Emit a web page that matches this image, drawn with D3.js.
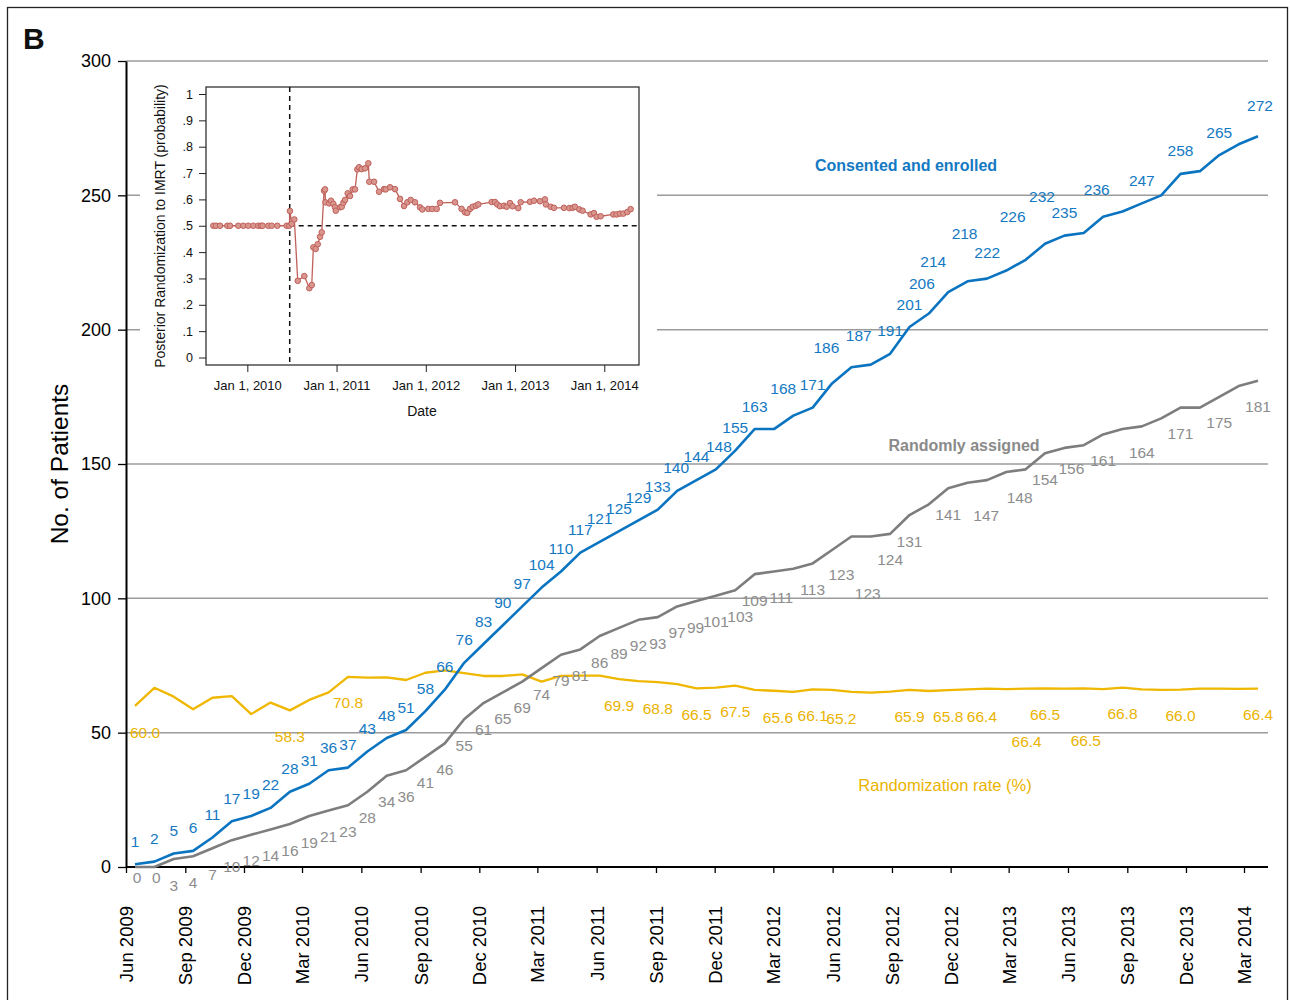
<!DOCTYPE html>
<html>
<head>
<meta charset="utf-8">
<script src="https://cdn.jsdelivr.net/npm/d3@7"></script>
<style>
  body { margin: 0; background: #fff; }
  text { font-family: "Liberation Sans", Arial, Helvetica, sans-serif; }
</style>
</head>
<body>
<svg id="chart" width="1290" height="1000"></svg>
<script>
// ---------------- data ----------------
// Monthly cumulative counts, Jun 2009 – Apr 2014
const consented = [
  1, 2, 5, 6, 11, 17, 19, 22, 28, 31,
  36, 37, 43, 48, 51, 58, 66, 76, 83, 90,
  97, 104, 110, 117, 121, 125, 129, 133, 140, 144,
  148, 155, 163, 163, 168, 171, 180, 186, 187, 191,
  201, 206, 214, 218, 219, 222, 226, 232, 235, 236,
  242, 244, 247, 250, 258, 259, 265, 269, 272
];
const randomized = [
  0, 0, 3, 4, 7, 10, 12, 14, 16, 19,
  21, 23, 28, 34, 36, 41, 46, 55, 61, 65,
  69, 74, 79, 81, 86, 89, 92, 93, 97, 99,
  101, 103, 109, 110, 111, 113, 118, 123, 123, 124,
  131, 135, 141, 143, 144, 147, 148, 154, 156, 157,
  161, 163, 164, 167, 171, 171, 175, 179, 181
];
// Randomization rate (%)
const randRate = [
  60.0, 66.7, 63.4, 58.7, 63.0, 63.6, 56.9, 61.2, 58.3, 62.2,
  65.0, 70.8, 70.5, 70.6, 69.6, 72.3, 73.2, 72.2, 71.1, 71.1,
  71.7, 69.0, 71.1, 71.2, 71.2, 69.9, 69.2, 68.8, 68.1, 66.5,
  66.8, 67.5, 65.9, 65.6, 65.2, 66.1, 65.9, 65.2, 64.9, 65.3,
  65.9, 65.5, 65.8, 66.1, 66.4, 66.2, 66.4, 66.5, 66.4, 66.5,
  66.2, 66.8, 66.1, 65.9, 66.0, 66.4, 66.4, 66.3, 66.4
];
// months that carry no printed value
const consentedUnlabeled = [33, 36, 44, 50, 51, 53, 55, 57];
const randomizedUnlabeled = [33, 36, 41, 43, 44, 49, 51, 53, 55, 57];
// months whose rate is printed
const rateLabeled = [0, 8, 11, 25, 27, 29, 31, 33, 35, 37, 40, 42, 44, 46, 47, 49, 51, 54, 58];

const xTickLabels = [
  "Jun 2009", "Sep 2009", "Dec 2009", "Mar 2010", "Jun 2010", "Sep 2010", "Dec 2010",
  "Mar 2011", "Jun 2011", "Sep 2011", "Dec 2011", "Mar 2012", "Jun 2012", "Sep 2012",
  "Dec 2012", "Mar 2013", "Jun 2013", "Sep 2013", "Dec 2013", "Mar 2014"
];
const yTicks = [0, 50, 100, 150, 200, 250, 300];

// Inset: posterior probability of randomization to IMRT over time (decimal years)
const insetYear = [
  2009.619, 2009.649, 2009.694, 2009.776, 2009.806, 2009.899, 2009.955, 2010.011, 2010.067, 2010.123,
  2010.153, 2010.172, 2010.235, 2010.273, 2010.336, 2010.441, 2010.470,
  2010.478, 2010.497, 2010.527, 2010.565, 2010.639, 2010.695, 2010.722, 2010.740, 2010.766, 2010.789,
  2010.815, 2010.834, 2010.860, 2010.871, 2010.875, 2010.916, 2010.938, 2010.964, 2010.983, 2010.991,
  2011.039, 2011.058, 2011.076, 2011.095, 2011.125, 2011.151, 2011.181, 2011.207, 2011.233, 2011.252,
  2011.282, 2011.319, 2011.356, 2011.367, 2011.420, 2011.476, 2011.532, 2011.551, 2011.599, 2011.655,
  2011.711, 2011.756, 2011.793, 2011.831, 2011.879, 2011.935, 2011.961, 2012.028, 2012.073, 2012.122,
  2012.159, 2012.327, 2012.401, 2012.439, 2012.465, 2012.495, 2012.525, 2012.562, 2012.588, 2012.738,
  2012.775, 2012.801, 2012.831, 2012.876, 2012.906, 2012.943, 2012.973, 2013.036, 2013.063, 2013.167,
  2013.212, 2013.279, 2013.335, 2013.346, 2013.399, 2013.436, 2013.548, 2013.608, 2013.645, 2013.671,
  2013.720, 2013.757, 2013.847, 2013.884, 2013.914, 2013.959, 2014.101, 2014.138, 2014.176, 2014.213,
  2014.258, 2014.295
];
const insetProb = [
  0.5, 0.5, 0.5, 0.5, 0.5, 0.5, 0.5, 0.5, 0.5, 0.5,
  0.5, 0.5, 0.5, 0.5, 0.5, 0.5, 0.5,
  0.556, 0.507, 0.524, 0.291, 0.309, 0.263, 0.275, 0.418, 0.412, 0.430,
  0.458, 0.475, 0.633, 0.638, 0.589, 0.585, 0.595, 0.583, 0.570, 0.557,
  0.570, 0.572, 0.587, 0.598, 0.623, 0.613, 0.638, 0.638, 0.714, 0.722,
  0.715, 0.718, 0.737, 0.667, 0.667, 0.629, 0.639, 0.638, 0.646, 0.639,
  0.602, 0.575, 0.589, 0.598, 0.589, 0.570, 0.562, 0.564, 0.564, 0.564,
  0.587, 0.589, 0.564, 0.551, 0.549, 0.564, 0.572, 0.576, 0.581, 0.590,
  0.590, 0.581, 0.574, 0.576, 0.572, 0.586, 0.574, 0.567, 0.589, 0.591,
  0.595, 0.593, 0.600, 0.581, 0.572, 0.568, 0.568, 0.567, 0.568, 0.572,
  0.562, 0.557, 0.543, 0.548, 0.534, 0.536, 0.543, 0.543, 0.546, 0.546,
  0.552, 0.563
];
const insetYearTicks = [2010, 2011, 2012, 2013, 2014];
const insetProbTicks = [0, 0.1, 0.2, 0.3, 0.4, 0.5, 0.6, 0.7, 0.8, 0.9, 1];
const adaptiveStart = 2010.475;   // start of outcome-adaptive randomization
const equalAllocation = 0.5;

// ---------------- styling ----------------
const BLUE = "#0a74c1", BLUE_TXT = "#1479c3";
const GRAY = "#7d7d7d", GRAY_TXT = "#8d8d8d";
const GOLD = "#efb700", GOLD_TXT = "#ebb300";
const GRID = "#9b9b9b";
const INSET_LINE = "#c0605a", INSET_FILL = "#d9968f";
const NARROW = "'Liberation Sans Narrow', 'Arial Narrow', 'DejaVu Sans Condensed', sans-serif";

// ---------------- layout ----------------
const plot = { left: 126, right: 1268, top: 61, bottom: 867 };
const svg = d3.select("#chart");

// outer frame and panel letter
svg.append("rect")
  .attr("x", 7.5).attr("y", 7.5).attr("width", 1280).attr("height", 1010)
  .attr("fill", "none").attr("stroke", "#222").attr("stroke-width", 1.3);
svg.append("text").attr("x", 23).attr("y", 49)
  .attr("font-size", 30).attr("font-weight", "bold").attr("fill", "#111").text("B");

// scales
const y = d3.scaleLinear().domain([0, 300]).range([plot.bottom, plot.top]);
const xi = d3.scaleLinear().domain([0, consented.length - 1]).range([135, 1258]);
const parseMonth = d3.timeParse("%b %Y");
const tickDates = xTickLabels.map(parseMonth);
const xt = d3.scaleTime()
  .domain([tickDates[0], tickDates[tickDates.length - 1]])
  .range([plot.left, 1244]);

// horizontal grid
svg.append("g").selectAll("line")
  .data(yTicks.filter(d => d > 0))
  .join("line")
  .attr("x1", plot.left).attr("x2", plot.right)
  .attr("y1", d => y(d)).attr("y2", d => y(d))
  .attr("stroke", GRID).attr("stroke-width", 1.5);

// y axis
const gy = svg.append("g").attr("transform", `translate(${plot.left},0)`)
  .call(d3.axisLeft(y).tickValues(yTicks).tickSize(8).tickSizeOuter(0).tickPadding(7));
gy.select(".domain").attr("stroke", "#000").attr("stroke-width", 2);
gy.selectAll(".tick line").attr("stroke", "#000").attr("stroke-width", 1.3);
gy.selectAll(".tick text").attr("font-size", 18).attr("fill", "#000")
  .attr("font-family", "'Liberation Sans', Arial, sans-serif");

// x axis
const gx = svg.append("g").attr("transform", `translate(0,${plot.bottom})`)
  .call(d3.axisBottom(xt).tickValues(tickDates).tickSize(6).tickSizeOuter(0)
    .tickFormat(d3.timeFormat("%b %Y")));
gx.select(".domain").remove();
gx.append("line").attr("x1", plot.left).attr("x2", plot.right)
  .attr("stroke", "#000").attr("stroke-width", 2);
gx.selectAll(".tick line").attr("stroke", "#000").attr("stroke-width", 1.3);
gx.selectAll(".tick text")
  .attr("font-size", 18.5).attr("fill", "#000")
  .attr("font-family", "'Liberation Sans', Arial, sans-serif")
  .attr("x", 0).attr("y", 0).attr("dy", "0.35em")
  .attr("text-anchor", "end")
  .attr("transform", "translate(0,39) rotate(-90)");

// y title
svg.append("text")
  .attr("transform", "translate(68,464) rotate(-90)")
  .attr("text-anchor", "middle")
  .attr("font-size", 24.5)
  .attr("font-family", NARROW)
  .attr("fill", "#000")
  .text("No. of Patients");

// ---------------- series ----------------
const lineOf = d3.line().x((d, i) => xi(i)).y(d => y(d));

svg.append("path").datum(randRate).attr("d", lineOf)
  .attr("fill", "none").attr("stroke", GOLD).attr("stroke-width", 2.3).attr("stroke-linejoin", "round");
svg.append("path").datum(randomized).attr("d", lineOf)
  .attr("fill", "none").attr("stroke", GRAY).attr("stroke-width", 2.6).attr("stroke-linejoin", "round");
svg.append("path").datum(consented).attr("d", lineOf)
  .attr("fill", "none").attr("stroke", BLUE).attr("stroke-width", 2.6).attr("stroke-linejoin", "round");

// value labels (default offset from the point, plus per-label nudges to avoid collisions)
const blueNudge = { 28: [-1, 0], 29: [0, -1], 30: [3, 0], 34: [-10, -4], 37: [-25, 3], 38: [-12, -6],
  41: [-7, -7], 42: [-15, -8], 43: [-3, -25], 45: [-19, 5], 46: [-13, -20], 47: [-3, -24],
  49: [13, -21], 58: [2, -8] };
const grayNudge = { 0: [2, -16], 1: [2, -16], 29: [-1, 0], 30: [0, 0], 31: [5, 0],
  34: [-12, 3], 37: [-10, 12], 38: [-3, 31], 45: [-20, 17], 46: [-6, 2], 48: [7, -5] };
const rateNudge = { 0: [10, 1], 33: [4, 1], 37: [-10, 1], 44: [-5, 2], 46: [1, 27], 49: [2, 26] };

function valueLabels(values, idx, baseDy, nudge, color, fmt) {
  svg.append("g").selectAll("text")
    .data(idx.map(i => ({ i, v: values[i] })))
    .join("text")
    .attr("x", d => xi(d.i) + (nudge[d.i] ? nudge[d.i][0] : 0))
    .attr("y", d => y(d.v) + baseDy + (nudge[d.i] ? nudge[d.i][1] : 0))
    .attr("dy", "0.36em")
    .attr("text-anchor", "middle")
    .attr("font-size", 15.5)
    .attr("font-family", NARROW)
    .attr("fill", color)
    .text(d => fmt(d.v));
}
const allIdx = d3.range(consented.length);
valueLabels(consented, allIdx.filter(i => !consentedUnlabeled.includes(i)), -23, blueNudge, BLUE_TXT, d3.format("d"));
valueLabels(randomized, allIdx.filter(i => !randomizedUnlabeled.includes(i)), 26, grayNudge, GRAY_TXT, d3.format("d"));
valueLabels(randRate, rateLabeled, 26, rateNudge, GOLD_TXT, d3.format(".1f"));

// series names
svg.append("text").attr("x", 906).attr("y", 171).attr("text-anchor", "middle")
  .attr("font-size", 16).attr("font-weight", "bold").attr("fill", BLUE_TXT)
  .text("Consented and enrolled");
svg.append("text").attr("x", 964).attr("y", 451).attr("text-anchor", "middle")
  .attr("font-size", 16).attr("font-weight", "bold").attr("fill", "#8a8a8a")
  .text("Randomly assigned");
svg.append("text").attr("x", 945).attr("y", 791).attr("text-anchor", "middle")
  .attr("font-size", 16.5).attr("fill", GOLD_TXT)
  .text("Randomization rate (%)");

// ---------------- inset ----------------
const inset = { left: 206, right: 639, top: 87, bottom: 365 };
const ix = d3.scaleLinear().domain([2009.537, 2014.389]).range([inset.left, inset.right]);
const iy = d3.scaleLinear().domain([0, 1]).range([357.5, 94]);

const gi = svg.append("g");
gi.append("rect").attr("x", 140).attr("y", 72).attr("width", 517).attr("height", 358).attr("fill", "#fff");
gi.append("rect")
  .attr("x", inset.left).attr("y", inset.top)
  .attr("width", inset.right - inset.left).attr("height", inset.bottom - inset.top)
  .attr("fill", "none").attr("stroke", "#333").attr("stroke-width", 1.3);

const probFmt = d => d === 0 ? "0" : d === 1 ? "1" : d3.format(".1f")(d).replace(/^0/, "");
const giy = gi.append("g").attr("transform", `translate(${inset.left},0)`)
  .call(d3.axisLeft(iy).tickValues(insetProbTicks).tickSize(7).tickPadding(6).tickFormat(probFmt));
giy.select(".domain").remove();
giy.selectAll(".tick line").attr("stroke", "#222");
giy.selectAll(".tick text").attr("font-size", 12.5).attr("fill", "#111")
  .attr("font-family", "'Liberation Sans', Arial, sans-serif");

const gix = gi.append("g").attr("transform", `translate(0,${inset.bottom})`)
  .call(d3.axisBottom(ix).tickValues(insetYearTicks).tickSize(7).tickPadding(9)
    .tickFormat(d => `Jan 1, ${d}`));
gix.select(".domain").remove();
gix.selectAll(".tick line").attr("stroke", "#222");
gix.selectAll(".tick text").attr("font-size", 13).attr("fill", "#111")
  .attr("font-family", "'Liberation Sans', Arial, sans-serif");

gi.append("text").attr("x", 422).attr("y", 416).attr("text-anchor", "middle")
  .attr("font-size", 14).attr("fill", "#111").text("Date");
gi.append("text").attr("transform", "translate(165,226) rotate(-90)")
  .attr("text-anchor", "middle").attr("font-size", 14).attr("fill", "#111")
  .text("Posterior Randomization to IMRT (probability)");

// reference lines: start of adaptive randomization, equal allocation
gi.append("line")
  .attr("x1", ix(adaptiveStart)).attr("x2", ix(adaptiveStart))
  .attr("y1", inset.top).attr("y2", inset.bottom)
  .attr("stroke", "#111").attr("stroke-width", 1.5).attr("stroke-dasharray", "5,4");
gi.append("line")
  .attr("x1", ix(adaptiveStart)).attr("x2", inset.right)
  .attr("y1", iy(equalAllocation)).attr("y2", iy(equalAllocation))
  .attr("stroke", "#111").attr("stroke-width", 1.5).attr("stroke-dasharray", "5,4");

const insetPts = insetYear.map((t, k) => ({ t, p: insetProb[k] }));
gi.append("path").datum(insetPts)
  .attr("d", d3.line().x(d => ix(d.t)).y(d => iy(d.p)))
  .attr("fill", "none").attr("stroke", INSET_LINE).attr("stroke-width", 1.3);
gi.append("g").selectAll("circle").data(insetPts).join("circle")
  .attr("cx", d => ix(d.t)).attr("cy", d => iy(d.p)).attr("r", 2.8)
  .attr("fill", INSET_FILL).attr("stroke", INSET_LINE).attr("stroke-width", 1);
</script>
</body>
</html>
